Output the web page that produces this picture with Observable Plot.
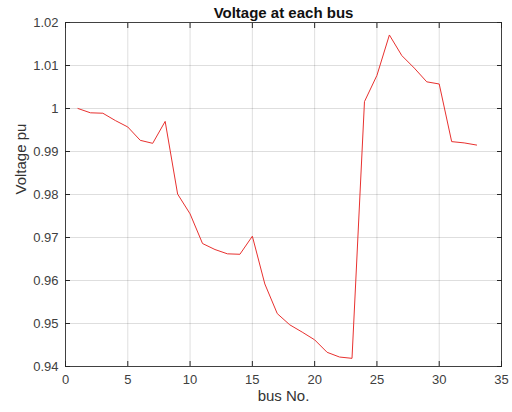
<!DOCTYPE html>
<html>
<head>
<meta charset="utf-8">
<script src="https://cdn.jsdelivr.net/npm/d3@7"></script>
<script src="https://cdn.jsdelivr.net/npm/@observablehq/plot@0.6"></script>
<style>
  html, body { margin: 0; padding: 0; background: #ffffff; }
  #chart { width: 512px; height: 412px; }
  svg { font-family: "Liberation Sans", Arial, sans-serif; }
</style>
</head>
<body>
<div id="chart"></div>
<script>
const titleText = "Voltage at each bus";
const xLabel = "bus No.";
const yLabel = "Voltage pu";

const bus = [1,2,3,4,5,6,7,8,9,10,11,12,13,14,15,16,17,18,19,20,21,22,23,24,25,26,27,28,29,30,31,32,33];
const voltage = [
  1.0000, 0.9990, 0.9989, 0.9972, 0.9957, 0.9926, 0.9919, 0.9970, 0.9801, 0.9755,
  0.9686, 0.9672, 0.9662, 0.9661, 0.9703, 0.9592, 0.9523, 0.9497, 0.9480, 0.9462,
  0.9433, 0.9422, 0.9419, 1.0016, 1.0077, 1.0171, 1.0123, 1.0094, 1.0062, 1.0057,
  0.9923, 0.9920, 0.9915
];

const xTicks = [0,5,10,15,20,25,30,35];
const yTicks = [0.94,0.95,0.96,0.97,0.98,0.99,1.00,1.01,1.02];

const data = bus.map((b, i) => ({bus: b, v: voltage[i]}));
const fmtY = d => String(+d.toFixed(2));
const axisColor = "#262626";

const chart = Plot.plot({
  width: 512,
  height: 412,
  marginLeft: 65,
  marginRight: 11,
  marginTop: 22,
  marginBottom: 46,
  style: {fontSize: "13px", color: axisColor, background: "#ffffff"},
  x: {domain: [0, 35], ticks: xTicks},
  y: {domain: [0.94, 1.02], ticks: yTicks},
  marks: [
    Plot.gridX(xTicks, {stroke: "#000", strokeOpacity: 0.13}),
    Plot.gridY(yTicks, {stroke: "#000", strokeOpacity: 0.13}),
    Plot.axisX(xTicks, {anchor: "bottom", tickSize: -5, tickPadding: 13, label: null, stroke: axisColor, fill: "#404040", fontSize: 13}),
    Plot.axisX(xTicks, {anchor: "top", tickSize: -5, tickFormat: () => "", label: null, stroke: axisColor}),
    Plot.axisY(yTicks, {anchor: "left", tickSize: -5, tickPadding: 12, tickFormat: fmtY, label: null, stroke: axisColor, fill: "#404040", fontSize: 13}),
    Plot.axisY(yTicks, {anchor: "right", tickSize: -5, tickFormat: () => "", label: null, stroke: axisColor}),
    Plot.frame({stroke: axisColor, strokeOpacity: 0.85}),
    Plot.line(data, {x: "bus", y: "v", stroke: "#e8312f", strokeWidth: 1}),
    Plot.text([titleText], {frameAnchor: "top", dy: -15, fontWeight: "bold", fontSize: 15, fill: "#111"}),
    Plot.text([xLabel], {frameAnchor: "bottom", dy: 34, fontSize: 15, fill: "#333"}),
    Plot.text([yLabel], {frameAnchor: "left", dx: -44, rotate: -90, fontSize: 15, fill: "#333"})
  ]
});
document.getElementById("chart").appendChild(chart);
</script>
</body>
</html>
